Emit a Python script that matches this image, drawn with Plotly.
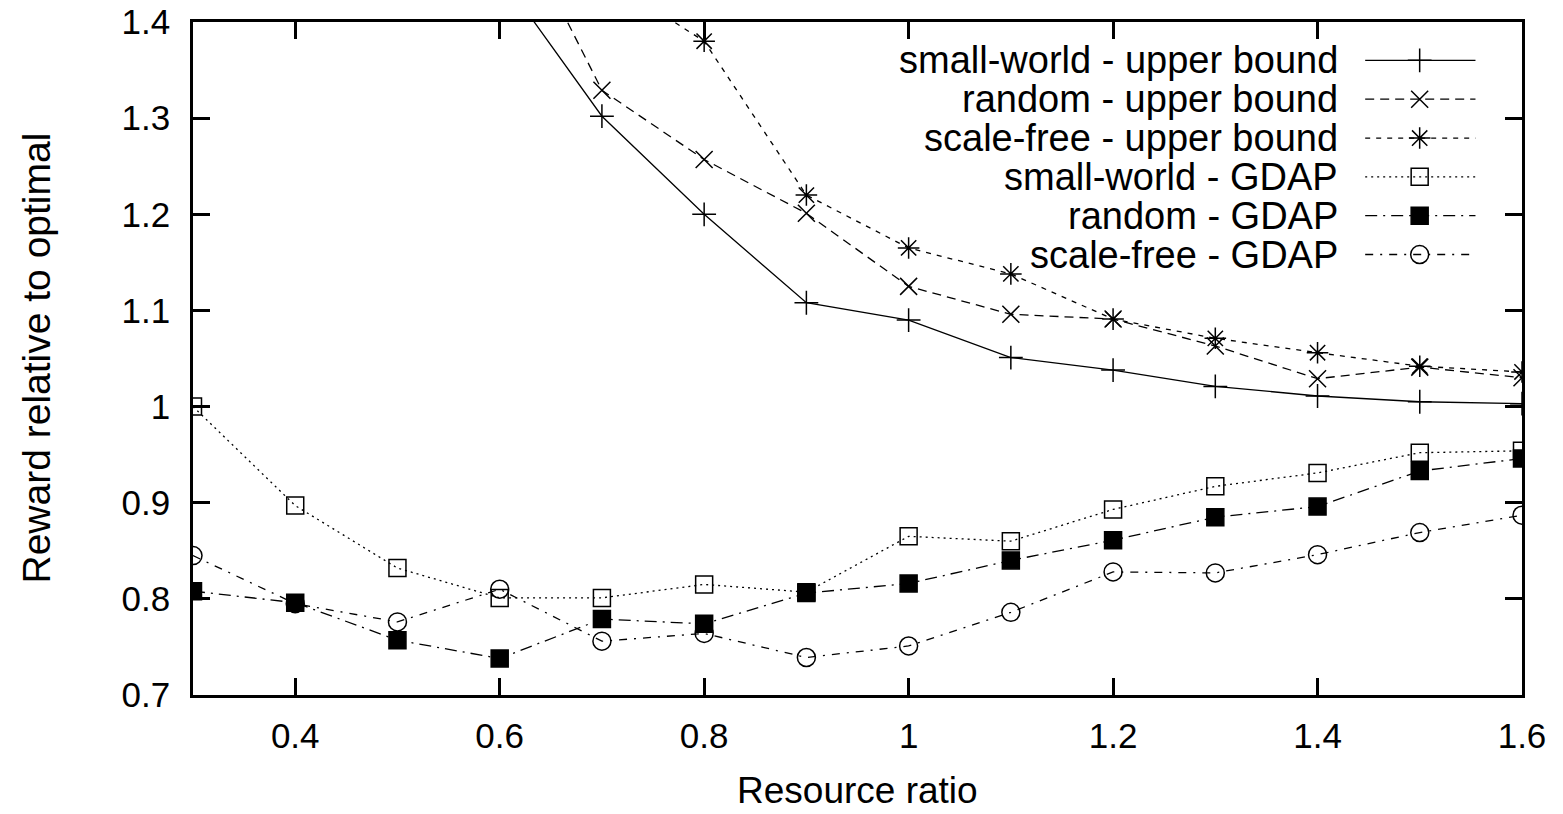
import plotly.graph_objects as go

# ---- data ----
resource_ratio = [0.3, 0.4, 0.5, 0.6, 0.7, 0.8, 0.9, 1.0, 1.1, 1.2, 1.3, 1.4, 1.5, 1.6]

sw_upper = [2.2, 1.9, 1.65, 1.45, 1.302, 1.200, 1.108, 1.090, 1.051, 1.038, 1.021, 1.011, 1.005, 1.003]
rnd_upper = [2.3, 2.0, 1.75, 1.54, 1.329, 1.257, 1.201, 1.125, 1.096, 1.091, 1.063, 1.029, 1.041, 1.030]
sf_upper = [2.8, 2.4, 2.0, 1.70, 1.448, 1.380, 1.220, 1.165, 1.138, 1.091, 1.071, 1.056, 1.042, 1.036]

sw_gdap = [1.000, 0.897, 0.832, 0.801, 0.801, 0.815, 0.807, 0.865, 0.860, 0.893, 0.917, 0.931, 0.952, 0.954]
rnd_gdap = [0.808, 0.796, 0.757, 0.738, 0.779, 0.774, 0.806, 0.816, 0.840, 0.861, 0.885, 0.896, 0.933, 0.946]
sf_gdap = [0.845, 0.795, 0.776, 0.810, 0.756, 0.764, 0.739, 0.751, 0.786, 0.828, 0.827, 0.846, 0.869, 0.887]

series_names = [
    "small-world - upper bound",
    "random - upper bound",
    "scale-free - upper bound",
    "small-world - GDAP",
    "random - GDAP",
    "scale-free - GDAP",
]
series_values = [sw_upper, rnd_upper, sf_upper, sw_gdap, rnd_gdap, sf_gdap]

x_tickvals = [0.4, 0.6, 0.8, 1.0, 1.2, 1.4, 1.6]
x_ticktext = ["0.4", "0.6", "0.8", "1", "1.2", "1.4", "1.6"]
y_tickvals = [0.7, 0.8, 0.9, 1.0, 1.1, 1.2, 1.3, 1.4]
y_ticktext = ["0.7", "0.8", "0.9", "1", "1.1", "1.2", "1.3", "1.4"]

# ---- styles ----
styles = [
    dict(dash="solid", symbol="cross-thin-open", size=17, fill="black"),
    dict(dash="9px,6px", symbol="x-thin-open", size=17, fill="black"),
    dict(dash="5px,6px", symbol="asterisk-open", size=18, fill="black"),
    dict(dash="2px,4px", symbol="square-open", size=17, fill="black"),
    dict(dash="12px,6px,2px,6px", symbol="square", size=17, fill="black"),
    dict(dash="8px,7px,2px,7px", symbol="circle-open", size=18, fill="black"),
]

FONT = "Liberation Sans, Arial, Helvetica, sans-serif"
LW = 1.3

fig = go.Figure()

for name, vals, st in zip(series_names, series_values, styles):
    fig.add_trace(go.Scatter(
        x=resource_ratio, y=vals, mode="lines+markers", name=name,
        line=dict(color="black", width=LW, dash=st["dash"]),
        marker=dict(symbol=st["symbol"], size=st["size"], color=st["fill"],
                    line=dict(color="black", width=1.5)),
        showlegend=False,
    ))

# ---- custom gnuplot-style key (text on the left, sample on the right) ----
key_text_x = 0.863
key_line_x0, key_line_x1, key_marker_x = 0.882, 0.965, 0.923
key_y0, key_dy = 0.943, 0.0577
for i, (name, st) in enumerate(zip(series_names, styles)):
    ky = key_y0 - i * key_dy
    fig.add_trace(go.Scatter(
        x=[key_line_x0, key_line_x1], y=[ky, ky], mode="lines",
        line=dict(color="black", width=LW, dash=st["dash"]),
        xaxis="x2", yaxis="y2", showlegend=False, hoverinfo="skip",
    ))
    fig.add_trace(go.Scatter(
        x=[key_marker_x], y=[ky], mode="markers",
        marker=dict(symbol=st["symbol"], size=st["size"], color=st["fill"],
                    line=dict(color="black", width=1.5)),
        xaxis="x2", yaxis="y2", showlegend=False, hoverinfo="skip",
    ))
    fig.add_annotation(
        x=key_text_x, y=ky, xref="paper", yref="paper", text=name,
        showarrow=False, xanchor="right", yanchor="middle",
        font=dict(family=FONT, size=38, color="black"),
    )

axis_common = dict(
    showline=True, linecolor="black", linewidth=2.5, mirror="allticks",
    ticks="inside", ticklen=17, tickwidth=2.5, tickcolor="black",
    showgrid=False, zeroline=False, automargin=False,
    tickfont=dict(family=FONT, size=35, color="black"),
)

fig.update_layout(
    width=1563, height=814, autosize=False,
    margin=dict(l=193, r=41, t=22, b=119, pad=0),
    paper_bgcolor="white", plot_bgcolor="white",
    showlegend=False,
    xaxis=dict(range=[0.3, 1.6], tickvals=x_tickvals, ticktext=x_ticktext,
               ticklabelstandoff=8, **axis_common),
    yaxis=dict(range=[0.7, 1.4], tickvals=y_tickvals, ticktext=y_ticktext,
               ticklabelstandoff=13, **axis_common),
    xaxis2=dict(overlaying="x", range=[0, 1], visible=False, fixedrange=True),
    yaxis2=dict(overlaying="y", range=[0, 1], visible=False, fixedrange=True),
)

fig.add_annotation(
    x=0.5, y=-(790 - 695) / 673, xref="paper", yref="paper", text="Resource ratio",
    showarrow=False, xanchor="center", yanchor="middle",
    font=dict(family=FONT, size=37, color="black"),
)
fig.add_annotation(
    x=-(193 - 36) / 1329, y=0.5, xref="paper", yref="paper", text="Reward relative to optimal",
    showarrow=False, xanchor="center", yanchor="middle", textangle=-90,
    font=dict(family=FONT, size=39, color="black"),
)

fig.write_html("out.html")
